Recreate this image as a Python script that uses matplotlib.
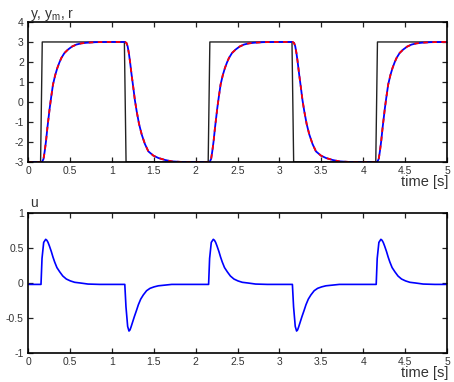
import matplotlib
matplotlib.use("Agg")
import matplotlib.pyplot as plt
import numpy as np

# step edges (start of each transition) and direction
edge_t = [0.155, 1.155, 2.155, 3.155, 4.155]
edge_kind = ["rise", "fall", "rise", "fall", "rise"]

# reference r (square wave, sampled)
r_t = [0.0, 0.15, 0.17, 1.15, 1.17, 2.15, 2.17, 3.15, 3.17, 4.15, 4.17, 5.0]
r_v = [-3, -3, 3, 3, -3, -3, 3, 3, -3, -3, 3, 3]

# output response after an edge (time since edge, value)
rise_dt = [0.0, 0.012, 0.03, 0.044, 0.06, 0.076, 0.09, 0.104, 0.12, 0.143, 0.17, 0.195,
           0.22, 0.243, 0.28, 0.322, 0.37, 0.422, 0.48, 0.541, 0.65, 0.8]
rise_y = [-3, -3, -2.85, -2.47, -1.95, -1.3, -0.8, -0.3, 0.2, 0.87, 1.35, 1.7,
          1.98, 2.2, 2.45, 2.62, 2.77, 2.87, 2.93, 2.96, 2.99, 3.0]
fall_dt = [0.0, 0.002, 0.02, 0.034, 0.048, 0.062, 0.08, 0.102, 0.12, 0.142, 0.17, 0.202,
           0.24, 0.281, 0.34, 0.4, 0.48, 0.56, 0.68, 0.8]
fall_y = [3, 3, 2.95, 2.78, 2.45, 2.03, 1.4, 0.7, 0.1, -0.47, -1.1, -1.63,
          -2.1, -2.47, -2.68, -2.8, -2.9, -2.97, -3.0, -3.0]

# control signal pulse after an edge
upos_dt = [0.0, 0.012, 0.032, 0.056, 0.07, 0.084, 0.1, 0.123, 0.143, 0.163, 0.19,
           0.223, 0.26, 0.302, 0.35, 0.402, 0.47, 0.561, 0.7, 0.8]
upos_v = [-0.02, 0.35, 0.58, 0.624, 0.61, 0.58, 0.53, 0.45, 0.37, 0.30, 0.22,
          0.16, 0.10, 0.057, 0.03, 0.01, 0.0, -0.015, -0.02, -0.02]
uneg_dt = [0.0, 0.014, 0.034, 0.05, 0.062, 0.074, 0.09, 0.114, 0.14, 0.162, 0.19,
           0.221, 0.26, 0.301, 0.35, 0.4, 0.48, 0.56, 0.7, 0.8]
uneg_v = [-0.02, -0.34, -0.62, -0.686, -0.67, -0.63, -0.57, -0.48, -0.39, -0.31, -0.23,
          -0.17, -0.11, -0.076, -0.055, -0.04, -0.03, -0.02, -0.02, -0.02]

x_ticks = [0, 0.5, 1, 1.5, 2, 2.5, 3, 3.5, 4, 4.5, 5]
x_labels = ["0", "0.5", "1", "1.5", "2", "2.5", "3", "3.5", "4", "4.5", "5"]


def build(shapes):
    t, v = [0.0], [shapes["fall"][1][-1]]
    for t0, kind in zip(edge_t, edge_kind):
        dts, vals = shapes[kind]
        t += [t0 + d for d in dts]
        v += list(vals)
    t.append(5.0)
    v.append(v[-1])
    return np.array(t), np.array(v)


y_t, y_v = build({"rise": (rise_dt, rise_y), "fall": (fall_dt, fall_y)})
u_t, u_v = build({"rise": (upos_dt, upos_v), "fall": (uneg_dt, uneg_v)})

plt.rcParams["font.family"] = ["Liberation Sans", "DejaVu Sans"]
plt.rcParams["mathtext.fontset"] = "custom"
plt.rcParams["mathtext.rm"] = "Liberation Sans"
plt.rcParams["axes.unicode_minus"] = False

fig = plt.figure(figsize=(4.54, 3.82), dpi=100)
ax1 = fig.add_axes([0.0617, 0.576, 0.9229, 0.3665])
ax2 = fig.add_axes([0.0617, 0.0759, 0.9229, 0.3665])

ax1.plot(r_t, r_v, color="#222222", lw=1.0)
ax1.plot(y_t, y_v, color="#0000ff", lw=1.3)
ax1.plot(y_t, y_v, color="#ff0000", lw=1.3, dashes=(2.5, 2.5))
ax1.set_ylim(-3, 4)
ax1.set_yticks(range(-3, 5))

ax2.plot(u_t, u_v, color="#0000ff", lw=1.2)
ax2.set_ylim(-1, 1)
ax2.set_yticks([-1, -0.5, 0, 0.5, 1])
ax2.set_yticklabels(["-1", "-0.5", "0", "0.5", "1"])

for ax in (ax1, ax2):
    ax.set_xlim(0, 5)
    ax.set_xticks(x_ticks)
    ax.set_xticklabels(x_labels)
    ax.tick_params(direction="in", top=True, right=True, length=3.5, width=0.9,
                   labelsize=7.5, pad=3, colors="#222222", labelcolor="#333333")
    for s in ax.spines.values():
        s.set_linewidth(1.2)

fig.text(0.987, 0.512, "time [s]", ha="right", va="baseline", fontsize=10.5, color="#333333")
fig.text(0.987, 0.013, "time [s]", ha="right", va="baseline", fontsize=10.5, color="#333333")
fig.text(0.066, 0.954, r"y, y$\mathregular{_m}$, r", ha="left", va="baseline", fontsize=10, color="#333333")
fig.text(0.066, 0.457, "u", ha="left", va="baseline", fontsize=10, color="#333333")

fig.savefig("out.png", dpi=100)
